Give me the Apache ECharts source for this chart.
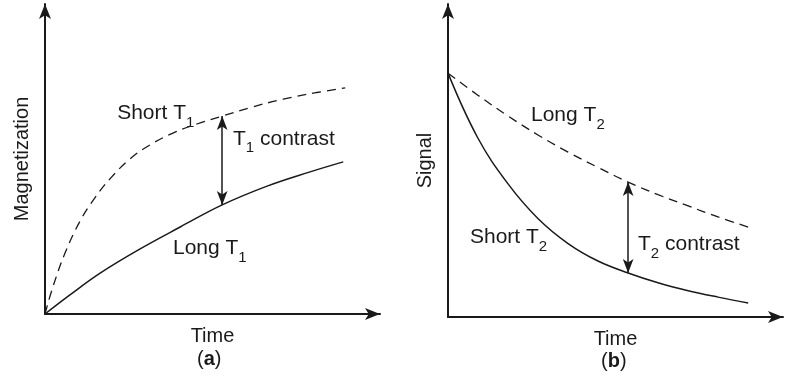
<!DOCTYPE html>
<html>
<head>
<meta charset="utf-8">
<script src="https://cdn.jsdelivr.net/npm/echarts@6/dist/echarts.min.js"></script>
<style>
  html, body { margin: 0; padding: 0; background: #fff; }
  #chart { width: 785px; height: 386px; }
</style>
</head>
<body>
<div id="chart"></div>
<script>
// (a) T1 recovery: magnetization vs time
const shortT1 = [[0,0],[2.4,8.9],[6.1,20.1],[10.7,30.7],[15.2,38.3],[19.8,44.6],[25.9,51.2],[32.0,55.8],[39.0,59.7],[46.3,62.7],[54.0,65.3],[62.5,68.1],[72.6,70.9],[82.9,73.1],[91.5,74.6]];
const longT1  = [[0,0],[7.6,6.3],[16.8,13.5],[29.0,21.5],[41.2,28.7],[54.0,36.0],[67.7,42.2],[80.8,46.9],[90.9,50.2]];
const t1ContrastAt = 54.0;

// (b) T2 decay: signal vs time
const longT2  = [[0,79.7],[9.1,72.5],[18.3,65.7],[27.4,59.5],[36.6,53.9],[45.7,48.9],[54.9,44.1],[64.0,40.0],[73.2,36.3],[82.3,32.7],[91.5,29.4]];
const shortT2 = [[0,79.7],[9.1,58.5],[18.3,43.5],[27.4,32.2],[36.6,24.0],[45.7,18.3],[54.9,14.4],[64.0,11.2],[73.2,8.6],[82.3,6.5],[91.5,4.6]];
const t2ContrastAt = 54.9;

const INK = '#1a1a1a';
const FONT = '"Liberation Sans", Arial, Helvetica, sans-serif';

function valueAt(series, x) {
  const p = series.find(d => d[0] === x);
  return p ? p[1] : null;
}

const rich = {
  m: { fontSize: 21, fontFamily: FONT, color: INK, lineHeight: 24 },
  s: { fontSize: 15, fontFamily: FONT, color: INK, lineHeight: 24, verticalAlign: 'bottom', padding: [0, 0, -5, 0] }
};

function noteLabel(text) {
  return {
    show: true, position: 'right', distance: 0,
    formatter: text, rich: rich, color: INK
  };
}

// axis ends sit at the arrow tips; the value range reaches a little past 100
function axisX(gridIndex, name, max) {
  return {
    type: 'value', gridIndex, min: 0, max,
    name, nameLocation: 'middle', nameGap: 12,
    nameTextStyle: { fontSize: 20, fontFamily: FONT, color: INK },
    axisLine: { show: true, symbol: ['none', 'arrow'], symbolSize: [9, 15], lineStyle: { color: INK, width: 2 } },
    axisTick: { show: false }, axisLabel: { show: false }, splitLine: { show: false }
  };
}
function axisY(gridIndex, name, max) {
  return {
    type: 'value', gridIndex, min: 0, max,
    name, nameLocation: 'middle', nameGap: 13,
    nameTextStyle: { fontSize: 20, fontFamily: FONT, color: INK },
    axisLine: { show: true, onZero: false, symbol: ['none', 'arrow'], symbolSize: [9, 15], lineStyle: { color: INK, width: 2 } },
    axisTick: { show: false }, axisLabel: { show: false }, splitLine: { show: false }
  };
}

function contrastArrow(x, yTop, yBottom) {
  return {
    silent: true,
    symbol: ['arrow', 'arrow'],
    symbolSize: [8, 14],
    lineStyle: { color: INK, width: 1.5, type: 'solid' },
    label: { show: false },
    data: [[{ coord: [x, yTop] }, { coord: [x, yBottom] }]]
  };
}

function notes(items) {
  return {
    symbol: 'circle', symbolSize: 0, silent: true,
    data: items.map(it => ({ coord: it.at, label: noteLabel(it.text) }))
  };
}

const curve = { smooth: 0.4, showSymbol: false };

const chart = echarts.init(document.getElementById('chart'), null, { renderer: 'canvas' });

chart.setOption({
  backgroundColor: '#ffffff',
  animation: false,
  grid: [
    { left: 45, top: 4, width: 335, height: 310 },
    { left: 448, top: 4, width: 335, height: 313 }
  ],
  xAxis: [axisX(0, 'Time', 102.1), axisX(1, 'Time', 102.1)],
  yAxis: [axisY(0, 'Magnetization', 102.3), axisY(1, 'Signal', 102.3)],
  graphic: [
    { type: 'text', left: 209 - 12, top: 349, style: { text: '({b|a})', rich: { b: { fontWeight: 'bold', fontSize: 20, fontFamily: FONT, fill: INK } }, fontSize: 20, fontFamily: FONT, fill: INK } },
    { type: 'text', left: 613 - 12, top: 351, style: { text: '({b|b})', rich: { b: { fontWeight: 'bold', fontSize: 20, fontFamily: FONT, fill: INK } }, fontSize: 20, fontFamily: FONT, fill: INK } }
  ],
  series: [
    Object.assign({
      name: 'Short T1', type: 'line', xAxisIndex: 0, yAxisIndex: 0, data: shortT1,
      lineStyle: { color: INK, width: 1.3, type: [9, 6] },
      markPoint: notes([{ at: [22.0, 66.3], text: '{m|Short T}{s|1}' }])
    }, curve),
    Object.assign({
      name: 'Long T1', type: 'line', xAxisIndex: 0, yAxisIndex: 0, data: longT1,
      lineStyle: { color: INK, width: 1.5 },
      markLine: contrastArrow(t1ContrastAt, valueAt(shortT1, t1ContrastAt), valueAt(longT1, t1ContrastAt)),
      markPoint: notes([
        { at: [57.3, 57.8], text: '{m|T}{s|1}{m| contrast}' },
        { at: [39.0, 21.8], text: '{m|Long T}{s|1}' }
      ])
    }, curve),
    Object.assign({
      name: 'Long T2', type: 'line', xAxisIndex: 1, yAxisIndex: 1, data: longT2,
      lineStyle: { color: INK, width: 1.3, type: [9, 6] },
      markPoint: notes([{ at: [25.3, 66.0], text: '{m|Long T}{s|2}' }])
    }, curve),
    Object.assign({
      name: 'Short T2', type: 'line', xAxisIndex: 1, yAxisIndex: 1, data: shortT2,
      lineStyle: { color: INK, width: 1.5 },
      markLine: contrastArrow(t2ContrastAt, valueAt(longT2, t2ContrastAt), valueAt(shortT2, t2ContrastAt)),
      markPoint: notes([
        { at: [6.7, 26.1], text: '{m|Short T}{s|2}' },
        { at: [57.9, 23.9], text: '{m|T}{s|2}{m| contrast}' }
      ])
    }, curve)
  ]
});
</script>
</body>
</html>
